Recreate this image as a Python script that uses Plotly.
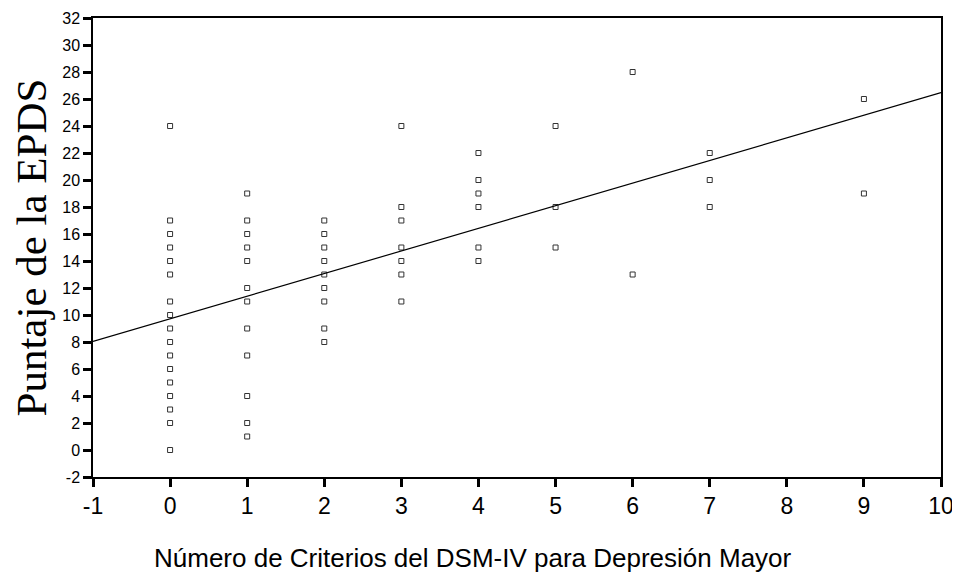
import numpy as np
import plotly.graph_objects as go

# Number of DSM-IV criteria (x) and EPDS score (y) for each subject
criterios = ([0]*17 + [1]*12 + [2]*9 + [3]*7 + [4]*6 + [5]*3 + [6]*2 + [7]*3 + [9]*2)
puntaje = ([24, 17, 16, 15, 14, 13, 11, 10, 9, 8, 7, 6, 5, 4, 3, 2, 0] +
           [19, 17, 16, 15, 14, 12, 11, 9, 7, 4, 2, 1] +
           [17, 16, 15, 14, 13, 12, 11, 9, 8] +
           [24, 18, 17, 15, 14, 13, 11] +
           [22, 20, 19, 18, 15, 14] +
           [24, 18, 15] +
           [28, 13] +
           [22, 20, 18] +
           [26, 19])

x_ticks = list(range(-1, 11))
y_ticks = list(range(-2, 33, 2))

slope, intercept = np.polyfit(criterios, puntaje, 1)
x_line = [-1, 10]
y_line = [intercept + slope * v for v in x_line]

fig = go.Figure()
fig.add_trace(go.Scatter(
    x=criterios, y=puntaje, mode="markers",
    marker=dict(symbol="square-open", size=5, color="#333333", line=dict(width=1)),
    showlegend=False,
))
fig.add_trace(go.Scatter(
    x=x_line, y=y_line, mode="lines",
    line=dict(color="black", width=1.2), showlegend=False,
))

sans = "Liberation Sans, Arial"
fig.update_layout(
    width=952, height=577,
    margin=dict(l=85, r=19, t=10, b=108),
    paper_bgcolor="white", plot_bgcolor="white",
    xaxis=dict(
        range=[-1, 10], tickvals=x_ticks, ticktext=[str(v) for v in x_ticks],
        automargin=False,
        showgrid=False, zeroline=False, showline=True, linecolor="black", linewidth=1.5,
        mirror=True, ticks="outside", ticklen=8, tickwidth=3, tickcolor="black",
        tickfont=dict(family=sans, size=23, color="black"),
    ),
    yaxis=dict(
        range=[-2, 32], tickvals=y_ticks, ticktext=[str(v) for v in y_ticks],
        automargin=False,
        showgrid=False, zeroline=False, showline=True, linecolor="black", linewidth=1.5,
        mirror=True, ticks="outside", ticklen=8, tickwidth=3, tickcolor="black",
        tickfont=dict(family=sans, size=16, color="black"),
        title=dict(text="Puntaje de la EPDS",
                   font=dict(family="Liberation Serif, Times New Roman, serif", size=43, color="black"),
                   standoff=4),
    ),
    annotations=[dict(
        text="Número de Criterios del DSM-IV para Depresión Mayor",
        xref="paper", yref="paper", x=(152 - 93) / (941 - 93), y=-(558 - 477) / 459,
        xanchor="left", yanchor="middle", showarrow=False,
        font=dict(family=sans, size=26, color="black"),
    )],
)

fig.write_html("out.html")
